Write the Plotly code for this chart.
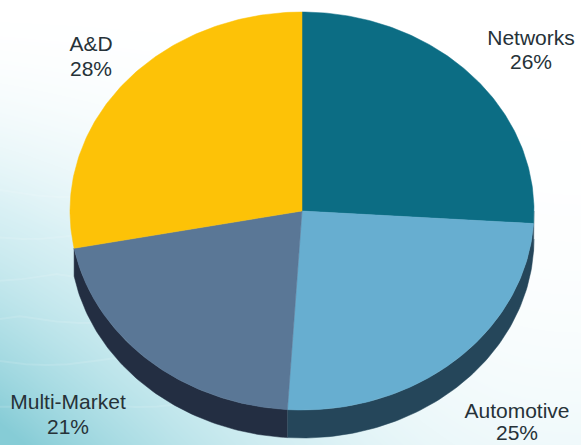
import numpy as np
import plotly.graph_objects as go

# Market share by segment, clockwise from twelve o'clock
segments = ["Networks", "Automotive", "Multi-Market", "A&D"]
shares = [26, 25, 21, 28]
top_colors = ["#0c6d84", "#67aed0", "#5a7796", "#fdc207"]
rim_colors = ["#25465a", "#25465a", "#232e42", None]
label_x = [531, 517, 68, 91]
name_y = [40, 413, 404, 46]
share_y = [64, 435, 429, 71]

WIDTH, HEIGHT = 581, 445
CX, CY, RX, RY, DEPTH = 302, 211, 232, 199, 28


def rim_point(theta):
    return CX + RX * np.sin(theta), CY - RY * np.cos(theta)


fig = go.Figure()

# Backdrop: white fading to teal towards the lower left
gx = np.linspace(0, WIDTH, 60)
gy = np.linspace(0, HEIGHT, 46)
xx, yy = np.meshgrid(gx, gy)
u = xx / WIDTH
v = yy / HEIGHT
wash = v ** 1.9 * (1 - u) ** 2.4 + 0.1 * v ** 3
fig.add_trace(go.Heatmap(
    x=gx, y=gy, z=wash, zmin=0, zmax=1, zsmooth="best", showscale=False, hoverinfo="skip",
    colorscale=[[0, "#ffffff"], [0.25, "#d8f0f4"], [0.6, "#b0dfe6"], [1, "#86ccd6"]],
))

# Faint scalloped ripples in the backdrop
for row in range(6):
    sx = np.linspace(0, 260, 120)
    base = 190 + row * 42
    sy = base + 7 * np.abs(np.sin(sx / 42 + row * 0.9))
    fig.add_trace(go.Scatter(x=sx, y=sy, mode="lines", hoverinfo="skip", showlegend=False,
                             line=dict(color="rgba(255,255,255,0.12)", width=2)))

bounds = np.cumsum([0] + shares) / sum(shares) * 2 * np.pi

# Side wall: only the front of the disc shows
for i, name in enumerate(segments):
    start = max(bounds[i], np.pi / 2)
    stop = min(bounds[i + 1], 3 * np.pi / 2)
    if stop <= start or rim_colors[i] is None:
        continue
    t = np.linspace(start, stop, 80)
    ex, ey = rim_point(t)
    fig.add_trace(go.Scatter(
        x=np.concatenate([ex, ex[::-1]]),
        y=np.concatenate([ey, ey[::-1] + DEPTH]),
        mode="lines", fill="toself", fillcolor=rim_colors[i],
        line=dict(color=rim_colors[i], width=0.5), hoverinfo="skip", showlegend=False,
    ))

# Top face of the disc
for i, name in enumerate(segments):
    t = np.linspace(bounds[i], bounds[i + 1], 120)
    ex, ey = rim_point(t)
    fig.add_trace(go.Scatter(
        x=np.concatenate([[CX], ex, [CX]]),
        y=np.concatenate([[CY], ey, [CY]]),
        mode="lines", fill="toself", fillcolor=top_colors[i],
        line=dict(color=top_colors[i], width=0.5), name=name,
        hovertemplate=f"{name}: {shares[i]}%<extra></extra>", showlegend=False,
    ))

# Segment labels: name above, share below
label_font = dict(family="Liberation Sans, Arial, sans-serif", size=21, color="#263238")
fig.add_trace(go.Scatter(x=label_x, y=name_y, mode="text", text=segments,
                         textposition="middle center", hoverinfo="skip", showlegend=False,
                         textfont=label_font))
fig.add_trace(go.Scatter(x=label_x, y=share_y, mode="text", text=[f"{s}%" for s in shares],
                         textposition="middle center", hoverinfo="skip", showlegend=False,
                         textfont=label_font))

fig.update_xaxes(range=[0, WIDTH], visible=False, fixedrange=True)
fig.update_yaxes(range=[HEIGHT, 0], visible=False, fixedrange=True)
fig.update_layout(width=WIDTH, height=HEIGHT, margin=dict(l=0, r=0, t=0, b=0),
                  paper_bgcolor="white", plot_bgcolor="white", showlegend=False)
fig.write_html("out.html", config={"displayModeBar": False})
